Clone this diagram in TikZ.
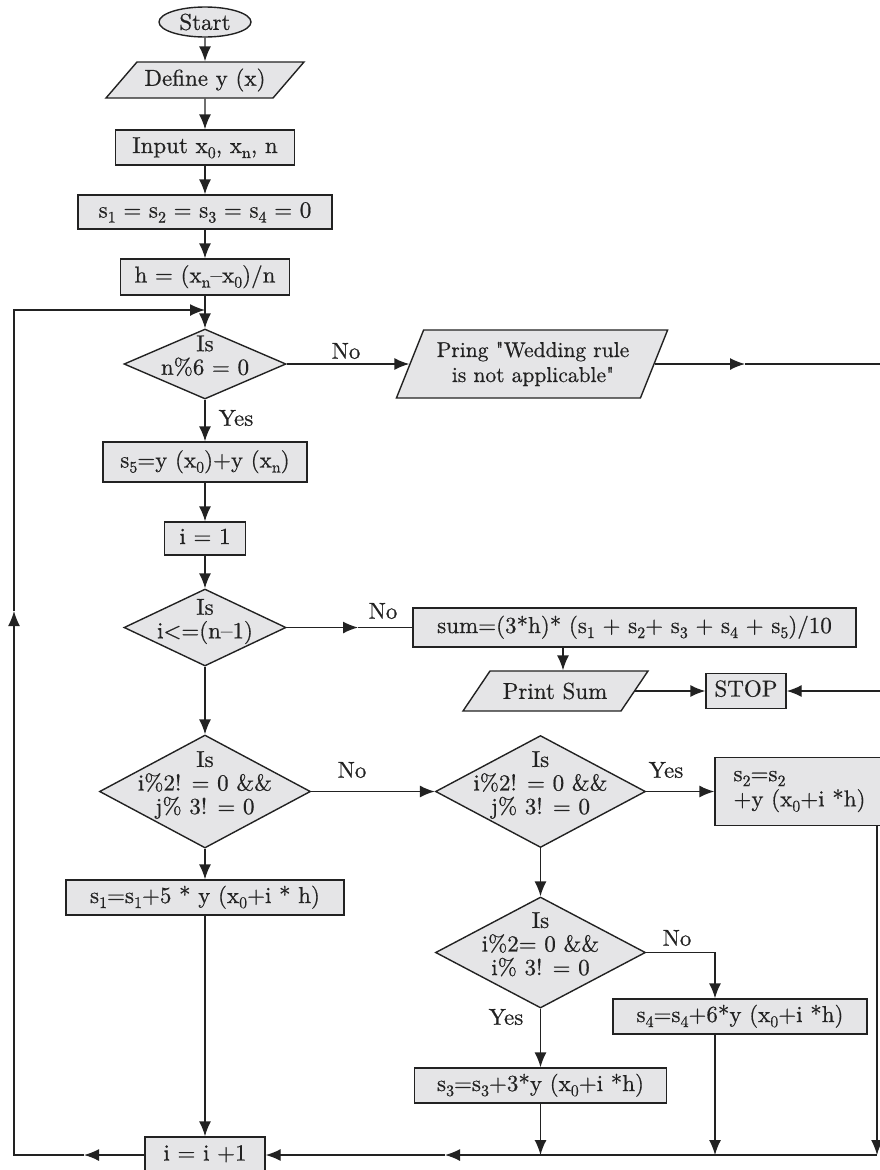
\documentclass[tikz,border=0pt]{standalone}
\usepackage{fontspec}
\setmainfont{lmroman10-regular.otf}[FakeBold=0.6]
\usetikzlibrary{shapes.geometric,arrows.meta}
\definecolor{boxfill}{HTML}{E5E5E7}
\definecolor{ink}{HTML}{222222}
% centred text that hardly influences the size of its shape
\newcommand\dtxt[1]{\makebox[1pt]{\smash{\begin{tabular}{@{}c@{}}#1\end{tabular}}\rule{0pt}{1pt}}}
% lowered index figures and letters
\newcommand\sub[1]{\raisebox{-5pt}{\fontsize{16}{16}\selectfont #1}}

\begin{document}
\begin{tikzpicture}[x=1pt,y=-1pt,
  every node/.style={font=\fontsize{23}{21}\selectfont, text=ink},
  base/.style={draw=ink, fill=boxfill, line width=1.4pt, inner sep=0pt},
  plainbox/.style={base, rectangle},
  proc/.style={plainbox, text height=16pt, text depth=5pt},
  % input/output boxes: a slanted rectangle, its text set separately
  io/.style={base, rectangle, xslant=#1},
  iotext/.style={inner sep=0pt, align=center},
  decision/.style={base, diamond},
  term/.style={base, ellipse},
  link/.style={draw=ink, line width=1.4pt},
  arr/.style={link, -{Latex[length=15pt,width=12pt]}},
  lbl/.style={inner sep=0pt}
]
\useasboundingbox (0,0) rectangle (880,1170);

% ---- main column ----
\node[term, minimum width=92pt, minimum height=30pt] (start) at (205,22) {Start};
\node[io=0.86, minimum width=167pt, minimum height=36pt] (define) at (205,80) {};
\node[iotext] (definet) at (205,80) {Define y (x)};
\node[proc, minimum width=179pt, minimum height=35pt] (input) at (205,147.5)
  {Input x\sub{0}, x\sub{n}, n};
\node[proc, minimum width=254pt, minimum height=34pt] (zero) at (205,212)
  {s\sub{1} = s\sub{2} = s\sub{3} = s\sub{4} = 0};
\node[proc, minimum width=169pt, minimum height=36pt] (hbox) at (205,277)
  {h = (x\sub{n}--x\sub{0})/n};
\node[decision, minimum width=162pt, minimum height=70pt] (d1) at (205,364)
  {\dtxt{Is\\n\%6 = 0}};
\node[io=0.40, minimum width=244pt, minimum height=68pt] (wed) at (532,364) {};
\node[iotext, font=\fontsize{21.5}{21}\selectfont] (wedt) at (533,364)
  {Pring \textquotedbl Wedding rule\\[4pt]is not applicable\textquotedbl};
\node[proc, minimum width=204pt, minimum height=40pt] (s5) at (205,462)
  {s\sub{5}=y (x\sub{0})+y (x\sub{n})};
\node[proc, minimum width=81pt, minimum height=33pt] (ione) at (205,538.5) {i = 1};
\node[decision, minimum width=162pt, minimum height=77pt] (d2) at (205,627.5)
  {\dtxt{Is\\i\textless{}=(n--1)}};
\node[proc, minimum width=443pt, minimum height=39pt] (sum) at (634.5,627.5)
  {sum=(3*h)* (s\sub{1} + s\sub{2}+ s\sub{3} + s\sub{4} + s\sub{5})/10};
\node[io=0.675, minimum width=158pt, minimum height=40pt] (ps) at (555.5,691) {};
\node[iotext] (pst) at (555,691) {Print Sum};
\node[proc, minimum width=80pt, minimum height=35pt] (stop) at (746,691) {STOP};

% ---- loop body ----
\node[decision, minimum width=211pt, minimum height=113pt] (d3) at (205,791.5)
  {\dtxt{Is\\i\%2! = 0 \&\&\\j\% 3! = 0}};
\node[decision, minimum width=210pt, minimum height=112pt] (d4) at (540.5,791.5)
  {\dtxt{Is\\i\%2! = 0 \&\&\\j\% 3! = 0}};
\node[plainbox, minimum width=169pt, minimum height=68pt, align=left] (s2) at (799.5,791.5)
  {s\sub{2}=s\sub{2}\\[2pt] +y (x\sub{0}+i *h)};
\node[proc, minimum width=278pt, minimum height=35pt] (s1) at (205,897.5)
  {s\sub{1}=s\sub{1}+5 * y (x\sub{0}+i * h)};
\node[decision, minimum width=210pt, minimum height=111pt] (d5) at (540.5,952.5)
  {\dtxt{Is\\i\%2= 0 \&\&\\i\% 3! = 0}};
\node[proc, minimum width=254pt, minimum height=35pt] (s4) at (740,1016.5)
  {s\sub{4}=s\sub{4}+6*y (x\sub{0}+i *h)};
\node[proc, minimum width=252pt, minimum height=35pt] (s3) at (540.5,1085.5)
  {s\sub{3}=s\sub{3}+3*y (x\sub{0}+i *h)};
\node[proc, minimum width=120pt, minimum height=36pt] (inc) at (205,1155) {i = i +1};

% ---- branch labels ----
\node[lbl] (no1)  at (346,351)  {No};
\node[lbl] (yes1) at (236,418)  {Yes};
\node[lbl] (no2)  at (383,611)  {No};
\node[lbl] (no3)  at (352,770)  {No};
\node[lbl] (yes4) at (666,770)  {Yes};
\node[lbl] (no5)  at (677,938)  {No};
\node[lbl] (yes5) at (506,1017) {Yes};

% ---- routing points ----
\coordinate (wm) at (745,364);
\coordinate (ne) at (884,364);
\coordinate (se) at (884,691);
\coordinate (sm) at (358,627.5);
\coordinate (sp) at (563,0);
\coordinate (k4) at (715,952.5);
\coordinate (r2) at (877,0);
\coordinate (bm) at (445,1155);
\coordinate (lm) at (84,1155);
\coordinate (lb) at (14,1155);
\coordinate (lu) at (14,611);
\coordinate (lt) at (14,310);

% ---- connectors ----
\draw[arr] (start) -- (define);
\draw[arr] (define) -- (input);
\draw[arr] (input) -- (zero);
\draw[arr] (zero) -- (hbox);
\draw[arr] (hbox) -- (d1);
\draw[arr] (d1) -- (wed);
\draw[arr] (wed) -- (wm);
\draw[arr] (wm) -- (ne) -- (se) -- (stop);
\draw[arr] (d1) -- (s5);
\draw[arr] (s5) -- (ione);
\draw[arr] (ione) -- (d2);
\draw[arr] (d2) -- (sm);
\draw[link] (sm) -- (sum);
\draw[arr] (sum.south -| sp) -- (ps.north -| sp);
\draw[arr] (ps) -- (stop);
\draw[arr] (d2) -- (d3);
\draw[arr] (d3) -- (d4);
\draw[arr] (d4) -- (s2);
\draw[arr] (d3) -- (s1);
\draw[arr] (d4) -- (d5);
\draw[arr] (d5) -- (k4) -- (k4 |- s4.north);
\draw[arr] (d5) -- (s3);
\draw[arr] (s3) -- (s3 |- inc.center);
\draw[arr] (k4 |- s4.south) -- (k4 |- inc.center);
\draw[arr] (r2 |- s2.south) -- (r2 |- inc.center);
\draw[arr] (r2 |- inc.center) -- (bm);
\draw[arr] (bm) -- (inc);
\draw[arr] (s1) -- (inc);
\draw[arr] (inc) -- (lm);
\draw[arr] (lm) -- (lb) -- (lu);
\draw[arr] (lu) -- (lt) -- (lt -| d1);
\end{tikzpicture}
\end{document}
